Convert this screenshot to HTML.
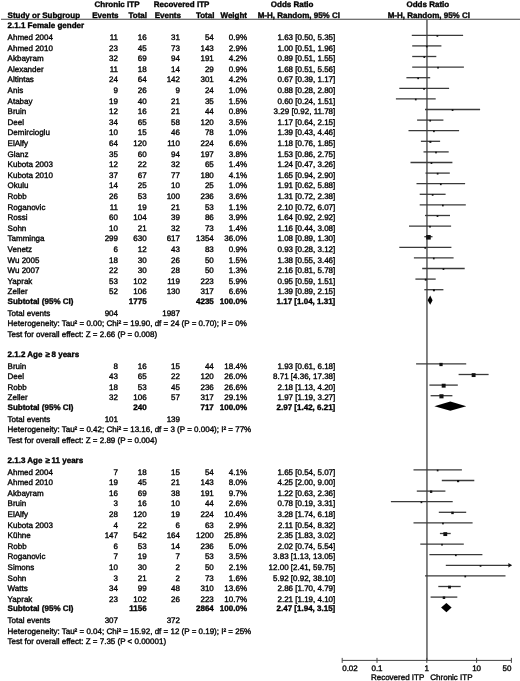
<!DOCTYPE html>
<html><head><meta charset="utf-8"><style>
html,body{margin:0;padding:0;background:#fff;}
body{width:520px;height:681px;overflow:hidden;}
svg{display:block;will-change:transform;}
text{font-family:"Liberation Sans", sans-serif;font-size:8.0px;fill:#000;stroke:#000;stroke-width:0.35px;text-rendering:geometricPrecision;}
</style></head><body>
<svg width="520" height="681" viewBox="0 0 520 681">
<rect width="520" height="681" fill="#fff"/>
<line x1="1" y1="19.2" x2="520" y2="19.2" stroke="#444" stroke-width="1.1"/>
<line x1="426.95" y1="19.2" x2="426.95" y2="660.4" stroke="#5a5a5a" stroke-width="1.5"/>
<line x1="411.8" y1="35.3" x2="463.1" y2="35.3" stroke="#3a3a3a" stroke-width="1.3"/>
<rect x="436.52" y="35.05" width="1.70" height="1.70" fill="#111"/>
<line x1="412.2" y1="45.9" x2="441.4" y2="45.9" stroke="#3a3a3a" stroke-width="1.3"/>
<rect x="425.95" y="45.65" width="1.70" height="1.70" fill="#111"/>
<line x1="412.2" y1="56.5" x2="436.3" y2="56.5" stroke="#3a3a3a" stroke-width="1.3"/>
<rect x="423.43" y="56.25" width="1.70" height="1.70" fill="#111"/>
<line x1="412.2" y1="67.1" x2="463.9" y2="67.1" stroke="#3a3a3a" stroke-width="1.3"/>
<rect x="437.17" y="66.85" width="1.70" height="1.70" fill="#111"/>
<line x1="406.4" y1="77.7" x2="430.2" y2="77.7" stroke="#3a3a3a" stroke-width="1.3"/>
<rect x="417.29" y="77.45" width="1.70" height="1.70" fill="#111"/>
<line x1="399.3" y1="88.3" x2="449.1" y2="88.3" stroke="#3a3a3a" stroke-width="1.3"/>
<rect x="423.19" y="88.05" width="1.70" height="1.70" fill="#111"/>
<line x1="395.9" y1="98.9" x2="435.7" y2="98.9" stroke="#3a3a3a" stroke-width="1.3"/>
<rect x="414.90" y="98.65" width="1.70" height="1.70" fill="#111"/>
<line x1="425.0" y1="109.5" x2="480.1" y2="109.5" stroke="#3a3a3a" stroke-width="1.3"/>
<rect x="451.71" y="109.25" width="1.70" height="1.70" fill="#111"/>
<line x1="417.1" y1="120.1" x2="443.4" y2="120.1" stroke="#3a3a3a" stroke-width="1.3"/>
<rect x="429.35" y="119.85" width="1.70" height="1.70" fill="#111"/>
<line x1="408.5" y1="130.7" x2="459.1" y2="130.7" stroke="#3a3a3a" stroke-width="1.3"/>
<rect x="433.07" y="130.45" width="1.70" height="1.70" fill="#111"/>
<line x1="420.9" y1="141.3" x2="440.1" y2="141.3" stroke="#3a3a3a" stroke-width="1.3"/>
<rect x="429.40" y="140.92" width="1.95" height="1.95" fill="#111"/>
<line x1="423.5" y1="151.9" x2="448.7" y2="151.9" stroke="#3a3a3a" stroke-width="1.3"/>
<rect x="435.15" y="151.65" width="1.70" height="1.70" fill="#111"/>
<line x1="410.5" y1="162.5" x2="452.4" y2="162.5" stroke="#3a3a3a" stroke-width="1.3"/>
<rect x="430.60" y="162.25" width="1.70" height="1.70" fill="#111"/>
<line x1="425.5" y1="173.1" x2="449.8" y2="173.1" stroke="#3a3a3a" stroke-width="1.3"/>
<rect x="436.78" y="172.85" width="1.70" height="1.70" fill="#111"/>
<line x1="416.5" y1="183.7" x2="465.1" y2="183.7" stroke="#3a3a3a" stroke-width="1.3"/>
<rect x="439.95" y="183.45" width="1.70" height="1.70" fill="#111"/>
<line x1="419.7" y1="194.3" x2="445.6" y2="194.3" stroke="#3a3a3a" stroke-width="1.3"/>
<rect x="431.79" y="194.05" width="1.70" height="1.70" fill="#111"/>
<line x1="419.7" y1="204.9" x2="465.8" y2="204.9" stroke="#3a3a3a" stroke-width="1.3"/>
<rect x="442.00" y="204.65" width="1.70" height="1.70" fill="#111"/>
<line x1="425.0" y1="215.5" x2="450.0" y2="215.5" stroke="#3a3a3a" stroke-width="1.3"/>
<rect x="436.65" y="215.25" width="1.70" height="1.70" fill="#111"/>
<line x1="409.0" y1="226.1" x2="451.1" y2="226.1" stroke="#3a3a3a" stroke-width="1.3"/>
<rect x="429.16" y="225.85" width="1.70" height="1.70" fill="#111"/>
<line x1="424.3" y1="236.7" x2="432.5" y2="236.7" stroke="#3a3a3a" stroke-width="1.3"/>
<rect x="426.18" y="235.02" width="4.56" height="4.56" fill="#111"/>
<line x1="399.3" y1="247.3" x2="451.4" y2="247.3" stroke="#3a3a3a" stroke-width="1.3"/>
<rect x="424.38" y="247.05" width="1.70" height="1.70" fill="#111"/>
<line x1="413.9" y1="257.9" x2="453.6" y2="257.9" stroke="#3a3a3a" stroke-width="1.3"/>
<rect x="432.92" y="257.65" width="1.70" height="1.70" fill="#111"/>
<line x1="422.2" y1="268.5" x2="464.7" y2="268.5" stroke="#3a3a3a" stroke-width="1.3"/>
<rect x="442.61" y="268.25" width="1.70" height="1.70" fill="#111"/>
<line x1="415.4" y1="279.1" x2="435.7" y2="279.1" stroke="#3a3a3a" stroke-width="1.3"/>
<rect x="424.77" y="278.78" width="1.85" height="1.85" fill="#111"/>
<line x1="424.3" y1="289.7" x2="443.4" y2="289.7" stroke="#3a3a3a" stroke-width="1.3"/>
<rect x="432.95" y="289.32" width="1.95" height="1.95" fill="#111"/>
<path d="M427.6 300.2 L430.2 295.6 L432.6 300.2 L430.2 304.8 Z" fill="#000"/>
<line x1="416.1" y1="363.9" x2="466.2" y2="363.9" stroke="#3a3a3a" stroke-width="1.3"/>
<rect x="439.39" y="362.87" width="3.26" height="3.26" fill="#111"/>
<line x1="458.6" y1="374.5" x2="488.6" y2="374.5" stroke="#3a3a3a" stroke-width="1.3"/>
<rect x="471.68" y="373.16" width="3.88" height="3.88" fill="#111"/>
<line x1="429.4" y1="385.1" x2="457.8" y2="385.1" stroke="#3a3a3a" stroke-width="1.3"/>
<rect x="441.70" y="383.74" width="3.92" height="3.92" fill="#111"/>
<line x1="430.6" y1="395.7" x2="452.4" y2="395.7" stroke="#3a3a3a" stroke-width="1.3"/>
<rect x="439.41" y="394.25" width="4.10" height="4.10" fill="#111"/>
<path d="M434.4 406.2 L450.3 401.6 L466.3 406.2 L450.3 410.8 Z" fill="#000"/>
<line x1="413.5" y1="469.9" x2="461.9" y2="469.9" stroke="#3a3a3a" stroke-width="1.3"/>
<rect x="436.78" y="469.65" width="1.70" height="1.70" fill="#111"/>
<line x1="441.8" y1="480.5" x2="474.3" y2="480.5" stroke="#3a3a3a" stroke-width="1.3"/>
<rect x="457.02" y="480.03" width="2.15" height="2.15" fill="#111"/>
<line x1="416.8" y1="491.1" x2="445.4" y2="491.1" stroke="#3a3a3a" stroke-width="1.3"/>
<rect x="429.92" y="490.52" width="2.37" height="2.37" fill="#111"/>
<line x1="390.9" y1="501.7" x2="452.7" y2="501.7" stroke="#3a3a3a" stroke-width="1.3"/>
<rect x="420.58" y="501.45" width="1.70" height="1.70" fill="#111"/>
<line x1="438.8" y1="512.3" x2="466.2" y2="512.3" stroke="#3a3a3a" stroke-width="1.3"/>
<rect x="451.27" y="511.67" width="2.45" height="2.45" fill="#111"/>
<line x1="413.5" y1="522.9" x2="472.6" y2="522.9" stroke="#3a3a3a" stroke-width="1.3"/>
<rect x="442.10" y="522.65" width="1.70" height="1.70" fill="#111"/>
<line x1="439.9" y1="533.5" x2="450.7" y2="533.5" stroke="#3a3a3a" stroke-width="1.3"/>
<rect x="443.35" y="532.17" width="3.86" height="3.86" fill="#111"/>
<line x1="420.3" y1="544.1" x2="463.8" y2="544.1" stroke="#3a3a3a" stroke-width="1.3"/>
<rect x="441.16" y="543.85" width="1.70" height="1.70" fill="#111"/>
<line x1="429.4" y1="554.7" x2="482.4" y2="554.7" stroke="#3a3a3a" stroke-width="1.3"/>
<rect x="454.99" y="554.45" width="1.70" height="1.70" fill="#111"/>
<line x1="445.8" y1="565.3" x2="511.4" y2="565.3" stroke="#3a3a3a" stroke-width="1.3"/>
<path d="M508.4 563.0 L511.9 565.3 L508.4 567.6 Z" fill="#111"/>
<rect x="479.69" y="565.05" width="1.70" height="1.70" fill="#111"/>
<line x1="425.0" y1="575.9" x2="505.5" y2="575.9" stroke="#3a3a3a" stroke-width="1.3"/>
<rect x="464.41" y="575.65" width="1.70" height="1.70" fill="#111"/>
<line x1="438.3" y1="586.5" x2="460.7" y2="586.5" stroke="#3a3a3a" stroke-width="1.3"/>
<rect x="448.13" y="585.70" width="2.80" height="2.80" fill="#111"/>
<line x1="430.6" y1="597.1" x2="457.3" y2="597.1" stroke="#3a3a3a" stroke-width="1.3"/>
<rect x="442.71" y="596.46" width="2.49" height="2.49" fill="#111"/>
<path d="M441.1 607.6 L446.4 603.0 L451.6 607.6 L446.4 612.2 Z" fill="#000"/>
<line x1="342.2" y1="660.4" x2="511.4" y2="660.4" stroke="#444" stroke-width="1"/>
<line x1="342.2" y1="657.9" x2="342.2" y2="662.9" stroke="#444" stroke-width="1"/>
<line x1="377.0" y1="657.9" x2="377.0" y2="662.9" stroke="#444" stroke-width="1"/>
<line x1="426.8" y1="657.9" x2="426.8" y2="662.9" stroke="#444" stroke-width="1"/>
<line x1="476.6" y1="657.9" x2="476.6" y2="662.9" stroke="#444" stroke-width="1"/>
<line x1="511.4" y1="657.9" x2="511.4" y2="662.9" stroke="#444" stroke-width="1"/>
<text x="94.6" y="6.9" font-weight="bold">Chronic ITP</text>
<text x="153.8" y="6.9" font-weight="bold">Recovered ITP</text>
<text x="270.8" y="6.9" font-weight="bold">Odds Ratio</text>
<text x="406.5" y="6.9" font-weight="bold">Odds Ratio</text>
<text x="7.6" y="17.5" font-weight="bold">Study or Subgroup</text>
<text x="118.5" y="17.5" text-anchor="end" font-weight="bold">Events</text>
<text x="147.0" y="17.5" text-anchor="end" font-weight="bold">Total</text>
<text x="180.9" y="17.5" text-anchor="end" font-weight="bold">Events</text>
<text x="214.4" y="17.5" text-anchor="end" font-weight="bold">Total</text>
<text x="247.0" y="17.5" text-anchor="end" font-weight="bold">Weight</text>
<text x="257.7" y="17.5" font-weight="bold">M-H, Random, 95% CI</text>
<text x="387.7" y="17.5" font-weight="bold">M-H, Random, 95% CI</text>
<text x="7.6" y="28.0" font-weight="bold">2.1.1 Female gender</text>
<text x="7.6" y="40.0">Ahmed 2004</text>
<text x="118.0" y="40.0" text-anchor="end">11</text>
<text x="146.6" y="40.0" text-anchor="end">16</text>
<text x="180.0" y="40.0" text-anchor="end">31</text>
<text x="213.8" y="40.0" text-anchor="end">54</text>
<text x="247.0" y="40.0" text-anchor="end">0.9%</text>
<text x="335.3" y="40.0" text-anchor="end">1.63 [0.50, 5.35]</text>
<text x="7.6" y="50.6">Ahmed 2010</text>
<text x="118.0" y="50.6" text-anchor="end">23</text>
<text x="146.6" y="50.6" text-anchor="end">45</text>
<text x="180.0" y="50.6" text-anchor="end">73</text>
<text x="213.8" y="50.6" text-anchor="end">143</text>
<text x="247.0" y="50.6" text-anchor="end">2.9%</text>
<text x="335.3" y="50.6" text-anchor="end">1.00 [0.51, 1.96]</text>
<text x="7.6" y="61.2">Akbayram</text>
<text x="118.0" y="61.2" text-anchor="end">32</text>
<text x="146.6" y="61.2" text-anchor="end">69</text>
<text x="180.0" y="61.2" text-anchor="end">94</text>
<text x="213.8" y="61.2" text-anchor="end">191</text>
<text x="247.0" y="61.2" text-anchor="end">4.2%</text>
<text x="335.3" y="61.2" text-anchor="end">0.89 [0.51, 1.55]</text>
<text x="7.6" y="71.8">Alexander</text>
<text x="118.0" y="71.8" text-anchor="end">11</text>
<text x="146.6" y="71.8" text-anchor="end">18</text>
<text x="180.0" y="71.8" text-anchor="end">14</text>
<text x="213.8" y="71.8" text-anchor="end">29</text>
<text x="247.0" y="71.8" text-anchor="end">0.9%</text>
<text x="335.3" y="71.8" text-anchor="end">1.68 [0.51, 5.56]</text>
<text x="7.6" y="82.4">Altintas</text>
<text x="118.0" y="82.4" text-anchor="end">24</text>
<text x="146.6" y="82.4" text-anchor="end">64</text>
<text x="180.0" y="82.4" text-anchor="end">142</text>
<text x="213.8" y="82.4" text-anchor="end">301</text>
<text x="247.0" y="82.4" text-anchor="end">4.2%</text>
<text x="335.3" y="82.4" text-anchor="end">0.67 [0.39, 1.17]</text>
<text x="7.6" y="93.0">Anis</text>
<text x="118.0" y="93.0" text-anchor="end">9</text>
<text x="146.6" y="93.0" text-anchor="end">26</text>
<text x="180.0" y="93.0" text-anchor="end">9</text>
<text x="213.8" y="93.0" text-anchor="end">24</text>
<text x="247.0" y="93.0" text-anchor="end">1.0%</text>
<text x="335.3" y="93.0" text-anchor="end">0.88 [0.28, 2.80]</text>
<text x="7.6" y="103.6">Atabay</text>
<text x="118.0" y="103.6" text-anchor="end">19</text>
<text x="146.6" y="103.6" text-anchor="end">40</text>
<text x="180.0" y="103.6" text-anchor="end">21</text>
<text x="213.8" y="103.6" text-anchor="end">35</text>
<text x="247.0" y="103.6" text-anchor="end">1.5%</text>
<text x="335.3" y="103.6" text-anchor="end">0.60 [0.24, 1.51]</text>
<text x="7.6" y="114.2">Bruin</text>
<text x="118.0" y="114.2" text-anchor="end">12</text>
<text x="146.6" y="114.2" text-anchor="end">16</text>
<text x="180.0" y="114.2" text-anchor="end">21</text>
<text x="213.8" y="114.2" text-anchor="end">44</text>
<text x="247.0" y="114.2" text-anchor="end">0.8%</text>
<text x="335.3" y="114.2" text-anchor="end">3.29 [0.92, 11.78]</text>
<text x="7.6" y="124.8">Deel</text>
<text x="118.0" y="124.8" text-anchor="end">34</text>
<text x="146.6" y="124.8" text-anchor="end">65</text>
<text x="180.0" y="124.8" text-anchor="end">58</text>
<text x="213.8" y="124.8" text-anchor="end">120</text>
<text x="247.0" y="124.8" text-anchor="end">3.5%</text>
<text x="335.3" y="124.8" text-anchor="end">1.17 [0.64, 2.15]</text>
<text x="7.6" y="135.4">Demircioglu</text>
<text x="118.0" y="135.4" text-anchor="end">10</text>
<text x="146.6" y="135.4" text-anchor="end">15</text>
<text x="180.0" y="135.4" text-anchor="end">46</text>
<text x="213.8" y="135.4" text-anchor="end">78</text>
<text x="247.0" y="135.4" text-anchor="end">1.0%</text>
<text x="335.3" y="135.4" text-anchor="end">1.39 [0.43, 4.46]</text>
<text x="7.6" y="146.0">ElAlfy</text>
<text x="118.0" y="146.0" text-anchor="end">64</text>
<text x="146.6" y="146.0" text-anchor="end">120</text>
<text x="180.0" y="146.0" text-anchor="end">110</text>
<text x="213.8" y="146.0" text-anchor="end">224</text>
<text x="247.0" y="146.0" text-anchor="end">6.6%</text>
<text x="335.3" y="146.0" text-anchor="end">1.18 [0.76, 1.85]</text>
<text x="7.6" y="156.6">Glanz</text>
<text x="118.0" y="156.6" text-anchor="end">35</text>
<text x="146.6" y="156.6" text-anchor="end">60</text>
<text x="180.0" y="156.6" text-anchor="end">94</text>
<text x="213.8" y="156.6" text-anchor="end">197</text>
<text x="247.0" y="156.6" text-anchor="end">3.8%</text>
<text x="335.3" y="156.6" text-anchor="end">1.53 [0.86, 2.75]</text>
<text x="7.6" y="167.2">Kubota 2003</text>
<text x="118.0" y="167.2" text-anchor="end">12</text>
<text x="146.6" y="167.2" text-anchor="end">22</text>
<text x="180.0" y="167.2" text-anchor="end">32</text>
<text x="213.8" y="167.2" text-anchor="end">65</text>
<text x="247.0" y="167.2" text-anchor="end">1.4%</text>
<text x="335.3" y="167.2" text-anchor="end">1.24 [0.47, 3.26]</text>
<text x="7.6" y="177.8">Kubota 2010</text>
<text x="118.0" y="177.8" text-anchor="end">37</text>
<text x="146.6" y="177.8" text-anchor="end">67</text>
<text x="180.0" y="177.8" text-anchor="end">77</text>
<text x="213.8" y="177.8" text-anchor="end">180</text>
<text x="247.0" y="177.8" text-anchor="end">4.1%</text>
<text x="335.3" y="177.8" text-anchor="end">1.65 [0.94, 2.90]</text>
<text x="7.6" y="188.4">Okulu</text>
<text x="118.0" y="188.4" text-anchor="end">14</text>
<text x="146.6" y="188.4" text-anchor="end">25</text>
<text x="180.0" y="188.4" text-anchor="end">10</text>
<text x="213.8" y="188.4" text-anchor="end">25</text>
<text x="247.0" y="188.4" text-anchor="end">1.0%</text>
<text x="335.3" y="188.4" text-anchor="end">1.91 [0.62, 5.88]</text>
<text x="7.6" y="199.0">Robb</text>
<text x="118.0" y="199.0" text-anchor="end">26</text>
<text x="146.6" y="199.0" text-anchor="end">53</text>
<text x="180.0" y="199.0" text-anchor="end">100</text>
<text x="213.8" y="199.0" text-anchor="end">236</text>
<text x="247.0" y="199.0" text-anchor="end">3.6%</text>
<text x="335.3" y="199.0" text-anchor="end">1.31 [0.72, 2.38]</text>
<text x="7.6" y="209.6">Roganovic</text>
<text x="118.0" y="209.6" text-anchor="end">11</text>
<text x="146.6" y="209.6" text-anchor="end">19</text>
<text x="180.0" y="209.6" text-anchor="end">21</text>
<text x="213.8" y="209.6" text-anchor="end">53</text>
<text x="247.0" y="209.6" text-anchor="end">1.1%</text>
<text x="335.3" y="209.6" text-anchor="end">2.10 [0.72, 6.07]</text>
<text x="7.6" y="220.2">Rossi</text>
<text x="118.0" y="220.2" text-anchor="end">60</text>
<text x="146.6" y="220.2" text-anchor="end">104</text>
<text x="180.0" y="220.2" text-anchor="end">39</text>
<text x="213.8" y="220.2" text-anchor="end">86</text>
<text x="247.0" y="220.2" text-anchor="end">3.9%</text>
<text x="335.3" y="220.2" text-anchor="end">1.64 [0.92, 2.92]</text>
<text x="7.6" y="230.8">Sohn</text>
<text x="118.0" y="230.8" text-anchor="end">10</text>
<text x="146.6" y="230.8" text-anchor="end">21</text>
<text x="180.0" y="230.8" text-anchor="end">32</text>
<text x="213.8" y="230.8" text-anchor="end">73</text>
<text x="247.0" y="230.8" text-anchor="end">1.4%</text>
<text x="335.3" y="230.8" text-anchor="end">1.16 [0.44, 3.08]</text>
<text x="7.6" y="241.4">Tamminga</text>
<text x="118.0" y="241.4" text-anchor="end">299</text>
<text x="146.6" y="241.4" text-anchor="end">630</text>
<text x="180.0" y="241.4" text-anchor="end">617</text>
<text x="213.8" y="241.4" text-anchor="end">1354</text>
<text x="247.0" y="241.4" text-anchor="end">36.0%</text>
<text x="335.3" y="241.4" text-anchor="end">1.08 [0.89, 1.30]</text>
<text x="7.6" y="252.0">Venetz</text>
<text x="118.0" y="252.0" text-anchor="end">6</text>
<text x="146.6" y="252.0" text-anchor="end">12</text>
<text x="180.0" y="252.0" text-anchor="end">43</text>
<text x="213.8" y="252.0" text-anchor="end">83</text>
<text x="247.0" y="252.0" text-anchor="end">0.9%</text>
<text x="335.3" y="252.0" text-anchor="end">0.93 [0.28, 3.12]</text>
<text x="7.6" y="262.6">Wu 2005</text>
<text x="118.0" y="262.6" text-anchor="end">18</text>
<text x="146.6" y="262.6" text-anchor="end">30</text>
<text x="180.0" y="262.6" text-anchor="end">26</text>
<text x="213.8" y="262.6" text-anchor="end">50</text>
<text x="247.0" y="262.6" text-anchor="end">1.5%</text>
<text x="335.3" y="262.6" text-anchor="end">1.38 [0.55, 3.46]</text>
<text x="7.6" y="273.2">Wu 2007</text>
<text x="118.0" y="273.2" text-anchor="end">22</text>
<text x="146.6" y="273.2" text-anchor="end">30</text>
<text x="180.0" y="273.2" text-anchor="end">28</text>
<text x="213.8" y="273.2" text-anchor="end">50</text>
<text x="247.0" y="273.2" text-anchor="end">1.3%</text>
<text x="335.3" y="273.2" text-anchor="end">2.16 [0.81, 5.78]</text>
<text x="7.6" y="283.8">Yaprak</text>
<text x="118.0" y="283.8" text-anchor="end">53</text>
<text x="146.6" y="283.8" text-anchor="end">102</text>
<text x="180.0" y="283.8" text-anchor="end">119</text>
<text x="213.8" y="283.8" text-anchor="end">223</text>
<text x="247.0" y="283.8" text-anchor="end">5.9%</text>
<text x="335.3" y="283.8" text-anchor="end">0.95 [0.59, 1.51]</text>
<text x="7.6" y="294.4">Zeller</text>
<text x="118.0" y="294.4" text-anchor="end">52</text>
<text x="146.6" y="294.4" text-anchor="end">106</text>
<text x="180.0" y="294.4" text-anchor="end">130</text>
<text x="213.8" y="294.4" text-anchor="end">317</text>
<text x="247.0" y="294.4" text-anchor="end">6.6%</text>
<text x="335.3" y="294.4" text-anchor="end">1.39 [0.89, 2.15]</text>
<text x="7.6" y="303.6" font-weight="bold">Subtotal (95% CI)</text>
<text x="146.6" y="303.6" text-anchor="end" font-weight="bold">1775</text>
<text x="213.8" y="303.6" text-anchor="end" font-weight="bold">4235</text>
<text x="247.0" y="303.6" text-anchor="end" font-weight="bold">100.0%</text>
<text x="335.3" y="303.6" text-anchor="end" font-weight="bold">1.17 [1.04, 1.31]</text>
<text x="7.6" y="315.6">Total events</text>
<text x="118.0" y="315.6" text-anchor="end">904</text>
<text x="180.0" y="315.6" text-anchor="end">1987</text>
<text x="7.6" y="326.2">Heterogeneity: Tau² = 0.00; Chi² = 19.90, df = 24 (P = 0.70); I² = 0%</text>
<text x="7.6" y="336.8">Test for overall effect: Z = 2.66 (P = 0.008)</text>
<text x="7.6" y="356.6" font-weight="bold">2.1.2 Age <tspan dx="0.9">≥</tspan><tspan dx="1.6">8 years</tspan></text>
<text x="7.6" y="368.6">Bruin</text>
<text x="118.0" y="368.6" text-anchor="end">8</text>
<text x="146.6" y="368.6" text-anchor="end">16</text>
<text x="180.0" y="368.6" text-anchor="end">15</text>
<text x="213.8" y="368.6" text-anchor="end">44</text>
<text x="247.0" y="368.6" text-anchor="end">18.4%</text>
<text x="335.3" y="368.6" text-anchor="end">1.93 [0.61, 6.18]</text>
<text x="7.6" y="379.2">Deel</text>
<text x="118.0" y="379.2" text-anchor="end">43</text>
<text x="146.6" y="379.2" text-anchor="end">65</text>
<text x="180.0" y="379.2" text-anchor="end">22</text>
<text x="213.8" y="379.2" text-anchor="end">120</text>
<text x="247.0" y="379.2" text-anchor="end">26.0%</text>
<text x="335.3" y="379.2" text-anchor="end">8.71 [4.36, 17.38]</text>
<text x="7.6" y="389.8">Robb</text>
<text x="118.0" y="389.8" text-anchor="end">18</text>
<text x="146.6" y="389.8" text-anchor="end">53</text>
<text x="180.0" y="389.8" text-anchor="end">45</text>
<text x="213.8" y="389.8" text-anchor="end">236</text>
<text x="247.0" y="389.8" text-anchor="end">26.6%</text>
<text x="335.3" y="389.8" text-anchor="end">2.18 [1.13, 4.20]</text>
<text x="7.6" y="400.4">Zeller</text>
<text x="118.0" y="400.4" text-anchor="end">32</text>
<text x="146.6" y="400.4" text-anchor="end">106</text>
<text x="180.0" y="400.4" text-anchor="end">57</text>
<text x="213.8" y="400.4" text-anchor="end">317</text>
<text x="247.0" y="400.4" text-anchor="end">29.1%</text>
<text x="335.3" y="400.4" text-anchor="end">1.97 [1.19, 3.27]</text>
<text x="7.6" y="409.6" font-weight="bold">Subtotal (95% CI)</text>
<text x="146.6" y="409.6" text-anchor="end" font-weight="bold">240</text>
<text x="213.8" y="409.6" text-anchor="end" font-weight="bold">717</text>
<text x="247.0" y="409.6" text-anchor="end" font-weight="bold">100.0%</text>
<text x="335.3" y="409.6" text-anchor="end" font-weight="bold">2.97 [1.42, 6.21]</text>
<text x="7.6" y="421.6">Total events</text>
<text x="118.0" y="421.6" text-anchor="end">101</text>
<text x="180.0" y="421.6" text-anchor="end">139</text>
<text x="7.6" y="432.2">Heterogeneity: Tau² = 0.42; Chi² = 13.16, df = 3 (P = 0.004); I² = 77%</text>
<text x="7.6" y="442.8">Test for overall effect: Z = 2.89 (P = 0.004)</text>
<text x="7.6" y="462.6" font-weight="bold">2.1.3 Age <tspan dx="0.9">≥</tspan><tspan dx="1.6">11 years</tspan></text>
<text x="7.6" y="474.6">Ahmed 2004</text>
<text x="118.0" y="474.6" text-anchor="end">7</text>
<text x="146.6" y="474.6" text-anchor="end">18</text>
<text x="180.0" y="474.6" text-anchor="end">15</text>
<text x="213.8" y="474.6" text-anchor="end">54</text>
<text x="247.0" y="474.6" text-anchor="end">4.1%</text>
<text x="335.3" y="474.6" text-anchor="end">1.65 [0.54, 5.07]</text>
<text x="7.6" y="485.2">Ahmed 2010</text>
<text x="118.0" y="485.2" text-anchor="end">19</text>
<text x="146.6" y="485.2" text-anchor="end">45</text>
<text x="180.0" y="485.2" text-anchor="end">21</text>
<text x="213.8" y="485.2" text-anchor="end">143</text>
<text x="247.0" y="485.2" text-anchor="end">8.0%</text>
<text x="335.3" y="485.2" text-anchor="end">4.25 [2.00, 9.00]</text>
<text x="7.6" y="495.8">Akbayram</text>
<text x="118.0" y="495.8" text-anchor="end">16</text>
<text x="146.6" y="495.8" text-anchor="end">69</text>
<text x="180.0" y="495.8" text-anchor="end">38</text>
<text x="213.8" y="495.8" text-anchor="end">191</text>
<text x="247.0" y="495.8" text-anchor="end">9.7%</text>
<text x="335.3" y="495.8" text-anchor="end">1.22 [0.63, 2.36]</text>
<text x="7.6" y="506.4">Bruin</text>
<text x="118.0" y="506.4" text-anchor="end">3</text>
<text x="146.6" y="506.4" text-anchor="end">16</text>
<text x="180.0" y="506.4" text-anchor="end">10</text>
<text x="213.8" y="506.4" text-anchor="end">44</text>
<text x="247.0" y="506.4" text-anchor="end">2.6%</text>
<text x="335.3" y="506.4" text-anchor="end">0.78 [0.19, 3.31]</text>
<text x="7.6" y="517.0">ElAlfy</text>
<text x="118.0" y="517.0" text-anchor="end">28</text>
<text x="146.6" y="517.0" text-anchor="end">120</text>
<text x="180.0" y="517.0" text-anchor="end">19</text>
<text x="213.8" y="517.0" text-anchor="end">224</text>
<text x="247.0" y="517.0" text-anchor="end">10.4%</text>
<text x="335.3" y="517.0" text-anchor="end">3.28 [1.74, 6.18]</text>
<text x="7.6" y="527.6">Kubota 2003</text>
<text x="118.0" y="527.6" text-anchor="end">4</text>
<text x="146.6" y="527.6" text-anchor="end">22</text>
<text x="180.0" y="527.6" text-anchor="end">6</text>
<text x="213.8" y="527.6" text-anchor="end">63</text>
<text x="247.0" y="527.6" text-anchor="end">2.9%</text>
<text x="335.3" y="527.6" text-anchor="end">2.11 [0.54, 8.32]</text>
<text x="7.6" y="538.2">Kühne</text>
<text x="118.0" y="538.2" text-anchor="end">147</text>
<text x="146.6" y="538.2" text-anchor="end">542</text>
<text x="180.0" y="538.2" text-anchor="end">164</text>
<text x="213.8" y="538.2" text-anchor="end">1200</text>
<text x="247.0" y="538.2" text-anchor="end">25.8%</text>
<text x="335.3" y="538.2" text-anchor="end">2.35 [1.83, 3.02]</text>
<text x="7.6" y="548.8">Robb</text>
<text x="118.0" y="548.8" text-anchor="end">6</text>
<text x="146.6" y="548.8" text-anchor="end">53</text>
<text x="180.0" y="548.8" text-anchor="end">14</text>
<text x="213.8" y="548.8" text-anchor="end">236</text>
<text x="247.0" y="548.8" text-anchor="end">5.0%</text>
<text x="335.3" y="548.8" text-anchor="end">2.02 [0.74, 5.54]</text>
<text x="7.6" y="559.4">Roganovic</text>
<text x="118.0" y="559.4" text-anchor="end">7</text>
<text x="146.6" y="559.4" text-anchor="end">19</text>
<text x="180.0" y="559.4" text-anchor="end">7</text>
<text x="213.8" y="559.4" text-anchor="end">53</text>
<text x="247.0" y="559.4" text-anchor="end">3.5%</text>
<text x="335.3" y="559.4" text-anchor="end">3.83 [1.13, 13.05]</text>
<text x="7.6" y="570.0">Simons</text>
<text x="118.0" y="570.0" text-anchor="end">10</text>
<text x="146.6" y="570.0" text-anchor="end">30</text>
<text x="180.0" y="570.0" text-anchor="end">2</text>
<text x="213.8" y="570.0" text-anchor="end">50</text>
<text x="247.0" y="570.0" text-anchor="end">2.1%</text>
<text x="335.3" y="570.0" text-anchor="end">12.00 [2.41, 59.75]</text>
<text x="7.6" y="580.6">Sohn</text>
<text x="118.0" y="580.6" text-anchor="end">3</text>
<text x="146.6" y="580.6" text-anchor="end">21</text>
<text x="180.0" y="580.6" text-anchor="end">2</text>
<text x="213.8" y="580.6" text-anchor="end">73</text>
<text x="247.0" y="580.6" text-anchor="end">1.6%</text>
<text x="335.3" y="580.6" text-anchor="end">5.92 [0.92, 38.10]</text>
<text x="7.6" y="591.2">Watts</text>
<text x="118.0" y="591.2" text-anchor="end">34</text>
<text x="146.6" y="591.2" text-anchor="end">99</text>
<text x="180.0" y="591.2" text-anchor="end">48</text>
<text x="213.8" y="591.2" text-anchor="end">310</text>
<text x="247.0" y="591.2" text-anchor="end">13.6%</text>
<text x="335.3" y="591.2" text-anchor="end">2.86 [1.70, 4.79]</text>
<text x="7.6" y="601.8">Yaprak</text>
<text x="118.0" y="601.8" text-anchor="end">23</text>
<text x="146.6" y="601.8" text-anchor="end">102</text>
<text x="180.0" y="601.8" text-anchor="end">26</text>
<text x="213.8" y="601.8" text-anchor="end">223</text>
<text x="247.0" y="601.8" text-anchor="end">10.7%</text>
<text x="335.3" y="601.8" text-anchor="end">2.21 [1.19, 4.10]</text>
<text x="7.6" y="611.0" font-weight="bold">Subtotal (95% CI)</text>
<text x="146.6" y="611.0" text-anchor="end" font-weight="bold">1156</text>
<text x="213.8" y="611.0" text-anchor="end" font-weight="bold">2864</text>
<text x="247.0" y="611.0" text-anchor="end" font-weight="bold">100.0%</text>
<text x="335.3" y="611.0" text-anchor="end" font-weight="bold">2.47 [1.94, 3.15]</text>
<text x="7.6" y="623.0">Total events</text>
<text x="118.0" y="623.0" text-anchor="end">307</text>
<text x="180.0" y="623.0" text-anchor="end">372</text>
<text x="7.6" y="633.6">Heterogeneity: Tau² = 0.04; Chi² = 15.92, df = 12 (P = 0.19); I² = 25%</text>
<text x="7.6" y="644.2">Test for overall effect: Z = 7.35 (P &lt; 0.00001)</text>
<text x="342.2" y="670.8">0.02</text>
<text x="377.0" y="670.8" text-anchor="middle">0.1</text>
<text x="426.8" y="670.8" text-anchor="middle">1</text>
<text x="476.6" y="670.8" text-anchor="middle">10</text>
<text x="511.4" y="670.8" text-anchor="end">50</text>
<text x="424.3" y="679.5" text-anchor="end">Recovered ITP</text>
<text x="430.3" y="679.5">Chronic ITP</text>
</svg>
</body></html>
